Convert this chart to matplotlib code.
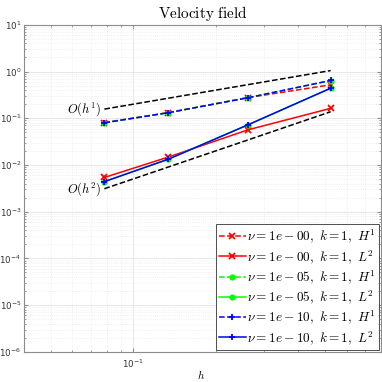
import matplotlib
matplotlib.use("Agg")
import matplotlib.pyplot as plt
from matplotlib.ticker import LogLocator, NullFormatter

# mesh sizes and error values
h = [0.0785, 0.134, 0.262, 0.525]

err_nu0_H1 = [0.081, 0.132, 0.277, 0.52]
err_nu0_L2 = [0.0054, 0.0147, 0.0565, 0.163]
err_nu5_H1 = [0.080, 0.131, 0.275, 0.64]
err_nu5_L2 = [0.0044, 0.0133, 0.072, 0.44]
err_nu10_H1 = [0.080, 0.131, 0.275, 0.645]
err_nu10_L2 = [0.0044, 0.0132, 0.0723, 0.44]

# reference slopes O(h^1), O(h^2)
ref_h1 = [0.157, 0.268, 0.524, 1.05]
ref_h2 = [0.0031, 0.0090, 0.0343, 0.138]

y_ticks = [1e-6, 1e-5, 1e-4, 1e-3, 1e-2, 1e-1, 1e0, 1e1]

series = [
    (err_nu0_H1, "r", "x", "--", r"$\nu = 1e-00,\ k=1,\ H^1$"),
    (err_nu0_L2, "r", "x", "-", r"$\nu = 1e-00,\ k=1,\ L^2$"),
    (err_nu5_H1, "#00ff00", "o", "--", r"$\nu = 1e-05,\ k=1,\ H^1$"),
    (err_nu5_L2, "#00ff00", "o", "-", r"$\nu = 1e-05,\ k=1,\ L^2$"),
    (err_nu10_H1, "b", "+", "--", r"$\nu = 1e-10,\ k=1,\ H^1$"),
    (err_nu10_L2, "b", "+", "-", r"$\nu = 1e-10,\ k=1,\ L^2$"),
]

AX_COLOR = "#8c8c8c"

fig = plt.figure(figsize=(3.82, 3.82), dpi=100)
ax = fig.add_axes([0.063, 0.079, 0.934, 0.856])

for vals, c, m, ls, lab in series:
    ax.loglog(h, vals, color=c, marker=m, linestyle=ls, linewidth=1.1,
              markersize=3.2 if m == "o" else 4.5, markeredgewidth=1.3, label=lab)

ax.loglog(h, ref_h1, "k--", linewidth=1.1)
ax.loglog(h, ref_h2, "k--", linewidth=1.1)
ax.annotate(r"$O(h^1)$", (h[0], ref_h1[0]), xytext=(-2, 0), textcoords="offset points",
            ha="right", va="center", fontsize=9, math_fontfamily="cm")
ax.annotate(r"$O(h^2)$", (h[0], ref_h2[0]), xytext=(-2, 0), textcoords="offset points",
            ha="right", va="center", fontsize=9, math_fontfamily="cm")

ax.set_xlim(0.04, 0.8)
ax.set_ylim(1e-6, 10)

ax.set_title(r"$\mathrm{Velocity\ field}$", fontsize=11, math_fontfamily="cm", pad=5)
ax.set_xlabel(r"$h$", fontsize=8, math_fontfamily="cm")
ax.xaxis.set_label_coords(0.497, -0.05)

# MATLAB-like box, inward ticks, major + minor grid
for sp in ax.spines.values():
    sp.set_color(AX_COLOR)
    sp.set_linewidth(0.8)
ax.set_yticks(y_ticks)
ax.xaxis.set_minor_locator(LogLocator(base=10, subs=range(2, 10), numticks=20))
ax.yaxis.set_minor_locator(LogLocator(base=10, subs=range(2, 10), numticks=20))
ax.xaxis.set_minor_formatter(NullFormatter())
ax.yaxis.set_minor_formatter(NullFormatter())
ax.tick_params(which="both", direction="in", top=True, right=True, colors=AX_COLOR,
               labelcolor="#333333", labelsize=6.3)
ax.tick_params(axis="x", pad=4)
ax.tick_params(axis="y", pad=2)
ax.tick_params(which="major", length=3)
ax.tick_params(which="minor", length=1.5)
ax.grid(True, which="major", color="#e3e3e3", linewidth=0.6)
ax.grid(True, which="minor", color="#e6e6e6", linewidth=0.5, linestyle=":")
ax.set_axisbelow(True)

leg = ax.legend(loc="lower right", prop={"size": 9.5, "math_fontfamily": "cm"},
                fancybox=False, framealpha=1, edgecolor="#333333", borderaxespad=0.15,
                handlelength=2.0, handletextpad=0.1, labelspacing=0.2, borderpad=0.25)
leg.get_frame().set_linewidth(0.6)

fig.savefig("out.png", dpi=100)
